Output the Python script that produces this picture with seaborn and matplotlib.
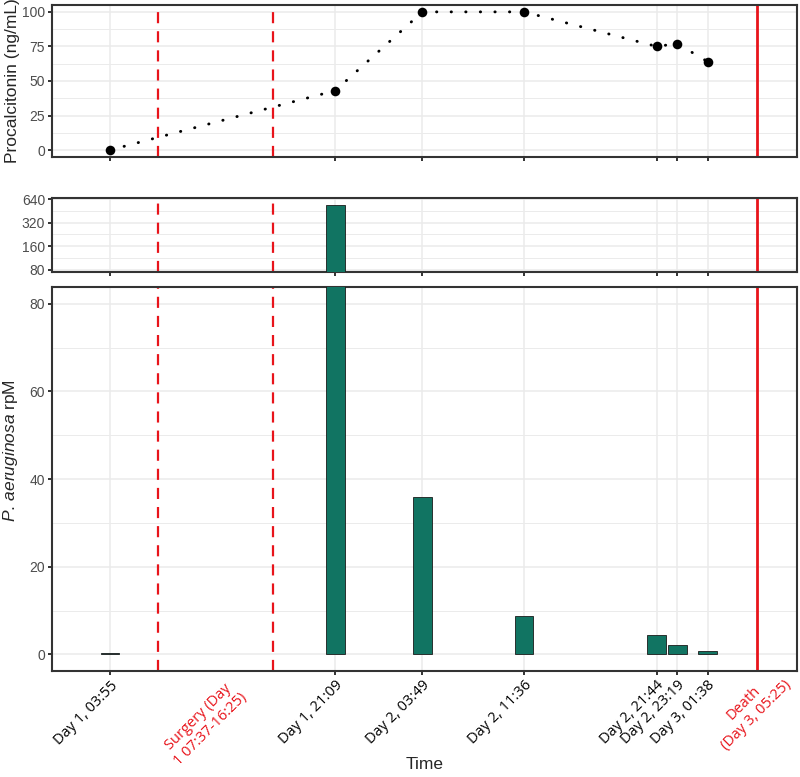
import numpy as np
import pandas as pd
import matplotlib
matplotlib.use("Agg")
import matplotlib.pyplot as plt
import matplotlib.transforms as mtransforms
import seaborn as sns

sample_times = ["Day 1, 03:55", "Day 1, 21:09", "Day 2, 03:49", "Day 2, 11:36",
                "Day 2, 21:44", "Day 2, 23:19", "Day 3, 01:38"]
procalcitonin = [0, 43, 100, 100, 75, 77, 64]
rpm = [0.3, 540, 35.8, 8.8, 4.4, 2.1, 0.8]
surgery = ("Day 1, 07:37", "Day 1, 16:25")
death = "Day 3, 05:25"
surgery_label = "Surgery (Day\n1 07:37-16:25)"
death_label = "Death\n(Day 3, 05:25)"

pct_ticks = [0, 25, 50, 75, 100]
log_ticks = [80, 160, 320, 640]
rpm_ticks = [0, 20, 40, 60, 80]

teal = "#117462"
red = "#E8141B"
frame = "#333333"
gridc = "#EBEBEB"


def to_hours(s):
    day, hm = s.replace("Day ", "").split(", ")
    h, m = hm.split(":")
    return (int(day) - 1) * 24 + int(h) + int(m) / 60


df = pd.DataFrame({"label": sample_times,
                   "hours": [to_hours(t) for t in sample_times],
                   "pct": procalcitonin, "rpm": rpm})
surg0, surg1 = to_hours(surgery[0]), to_hours(surgery[1])
t_death = to_hours(death)

sns.set_style("white")
plt.rcParams["font.family"] = ["Liberation Sans", "DejaVu Sans"]
plt.rcParams["mathtext.fontset"] = "custom"
plt.rcParams["mathtext.it"] = "Liberation Sans:italic"
plt.rcParams["mathtext.rm"] = "Liberation Sans"

fig = plt.figure(figsize=(8, 7.77), dpi=100)
ax_top = fig.add_axes([0.065, 0.798, 0.931, 0.1956])
ax_mid = fig.add_axes([0.065, 0.650, 0.931, 0.0952])
ax_bot = fig.add_axes([0.065, 0.1364, 0.931, 0.4942])

# procalcitonin
sns.lineplot(data=df, x="hours", y="pct", ax=ax_top, color="black", lw=2.1,
             linestyle=(0, (0.1, 4.9)), dash_capstyle="round", zorder=3)
sns.scatterplot(data=df, x="hours", y="pct", ax=ax_top, color="black", s=48,
                linewidth=0, zorder=4)

# rpM bars, broken axis
for ax in (ax_mid, ax_bot):
    sns.barplot(data=df, x="hours", y="rpm", ax=ax, native_scale=True, width=0.9,
                color=teal, saturation=1, edgecolor="#1a1a1a", linewidth=0.6,
                errorbar=None, zorder=3)
ax_mid.set_yscale("log", base=2)

# tick positions: samples plus event labels
tick_pos = list(df["hours"]) + [(surg0 + surg1) / 2, t_death]
tick_lab = list(df["label"]) + [surgery_label, death_label]
is_event = [False] * len(df) + [True, True]
order = np.argsort(tick_pos)
tick_pos = [tick_pos[i] for i in order]
tick_lab = [tick_lab[i] for i in order]
is_event = [is_event[i] for i in order]

for ax in (ax_top, ax_mid, ax_bot):
    ax.axvline(surg0, color=red, lw=1.6, dashes=(5, 3.6), zorder=2)
    ax.axvline(surg1, color=red, lw=1.6, dashes=(5, 3.6), zorder=2)
    ax.axvline(t_death, color=red, lw=2.0, zorder=2)
    ax.set_xlim(-0.52, 56.46)
    ax.set_xlabel("")
    ax.set_ylabel("")
    ax.set_xticks(tick_pos)
    ax.grid(which="major", color=gridc, lw=1.1, zorder=0)
    ax.grid(which="minor", axis="y", color=gridc, lw=0.7, zorder=0)
    ax.set_axisbelow(True)
    for sp in ax.spines.values():
        sp.set_color(frame)
        sp.set_linewidth(1.5)
    ax.tick_params(axis="both", which="major", length=3, width=1.4, color=frame,
                   labelsize=10, labelcolor="#4D4D4D", pad=2, bottom=True, left=True)
    ax.tick_params(axis="y", which="minor", length=0)
    for tk, ev in zip(ax.xaxis.get_major_ticks(), is_event):
        if ev:
            tk.tick1line.set_visible(False)
            tk.gridline.set_visible(False)

ax_top.tick_params(labelbottom=False)
ax_mid.tick_params(labelbottom=False)

ax_top.set_ylim(-5, 105)
ax_top.set_yticks(pct_ticks)
ax_top.set_yticks([12.5, 37.5, 62.5, 87.5], minor=True)

ax_mid.set_ylim(74.5, 660)
ax_mid.set_yticks(log_ticks)
ax_mid.set_yticklabels([str(v) for v in log_ticks])
ax_mid.set_yticks([v * np.sqrt(2) for v in log_ticks[:-1]], minor=True)
ax_mid.yaxis.set_minor_formatter(matplotlib.ticker.NullFormatter())

ax_bot.set_ylim(-3.8, 83.8)
ax_bot.set_yticks(rpm_ticks)
ax_bot.set_yticks([10, 30, 50, 70], minor=True)

ax_bot.set_xticklabels(tick_lab, rotation=45, ha="right", va="top",
                       rotation_mode="anchor", fontfamily="Open Sans", fontsize=10.5,
                       multialignment="center")
# ggplot placed the two-line event labels a little off their tick
shifts = {surgery_label: (0.11, 0.0), death_label: (0.14, 0.13)}
for lab, ev, txt in zip(ax_bot.get_xticklabels(), is_event, tick_lab):
    lab.set_color(red if ev else "black")
    if txt in shifts:
        dx, dy = shifts[txt]
        lab.set_transform(lab.get_transform() +
                          mtransforms.ScaledTranslation(dx, dy, fig.dpi_scale_trans))

ax_top.set_ylabel("Procalcitonin (ng/mL)", fontsize=12.5)
ax_top.yaxis.set_label_coords(-0.043, 0.5)
ax_bot.set_ylabel(r"$\mathit{P.}\,\mathit{aeruginosa}$ rpM", fontsize=12.5)
ax_bot.yaxis.set_label_coords(-0.043, 0.575)
ax_bot.set_xlabel("Time", fontsize=12.5)
ax_bot.xaxis.set_label_coords(0.5, -0.224)

fig.savefig("out.png", dpi=100)
